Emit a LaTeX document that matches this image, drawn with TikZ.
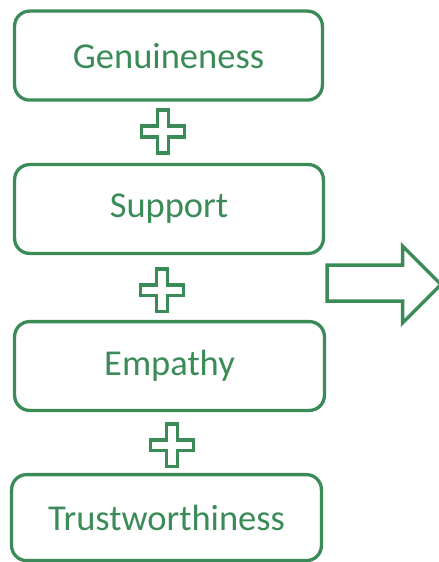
\documentclass[tikz,border=0pt]{standalone}
\usepackage{fontspec}
\setmainfont{Carlito}
\usetikzlibrary{calc}
\definecolor{gr}{RGB}{58,139,87}
\tikzset{
  box/.style={draw=gr, line width=3.3bp, rounded corners=15bp, text=gr, inner sep=0pt,
    font=\fontsize{36.5bp}{40bp}\selectfont},
  plusshape/.style={draw=gr, line width=3.6bp, line join=miter},
  bigarrow/.style={draw=gr, line width=3.5bp, line join=miter}
}
\newcommand{\plusat}[1]{%
  \draw[plusshape] ($(#1)+(-5.4,-21.3)$) -- ++(10.8,0) -- ++(0,16) -- ++(16,0) -- ++(0,10.8) -- ++(-16,0) -- ++(0,16) -- ++(-10.8,0) -- ++(0,-16) -- ++(-16,0) -- ++(0,-10.8) -- ++(16,0) -- cycle;}
\begin{document}
\begin{tikzpicture}[x=1bp,y=-1bp]
\useasboundingbox (0,0) rectangle (439,562);
\node[box, minimum width=307.8bp, minimum height=89bp] (g) at (168.5,55.6) {Genuineness};
\node[box, minimum width=308.8bp, minimum height=88.8bp] (s) at (169,209) {Support};
\node[box, minimum width=309.8bp, minimum height=88.8bp] (e) at (169.5,366) {Empathy};
\node[box, minimum width=309.8bp, minimum height=86bp] (t) at (166.5,517.6) {Trustworthiness};
\coordinate (p1) at (163,131.5);
\coordinate (p2) at (162,290);
\coordinate (p3) at (172,445);
\plusat{p1}
\plusat{p2}
\plusat{p3}
\coordinate (a0) at (327,265);
\draw[bigarrow] (a0) -- (402.5,265) -- (402.5,246) -- (441,284.5) -- (402.5,323) -- (402.5,301) -- (327,301) -- cycle;
\end{tikzpicture}
\end{document}
